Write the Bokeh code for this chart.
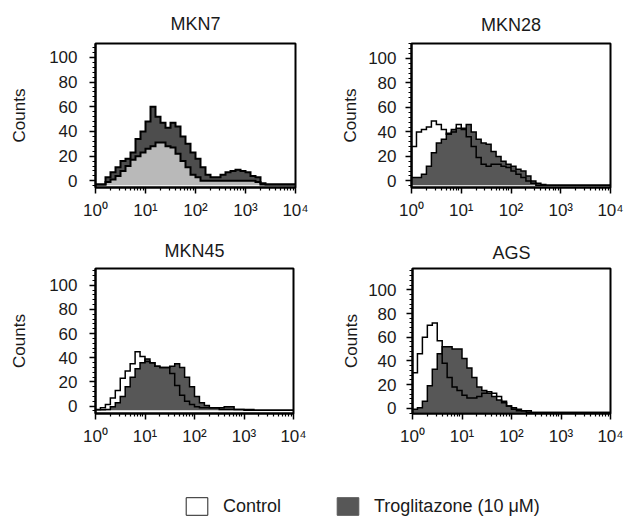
from bokeh.plotting import figure
from bokeh.layouts import column, row
from bokeh.models import Range1d, FixedTicker, SingleIntervalTicker, Legend, LegendItem
from bokeh.embed import file_html
from bokeh.resources import INLINE

# ---- data -------------------------------------------------------------
# histogram bin edges, in decades of fluorescence intensity (10^0 .. 10^4)
LOG_EDGES = [0.0, 0.1, 0.2, 0.3, 0.4, 0.5, 0.6, 0.7, 0.8, 0.9,
             1.0, 1.1, 1.2, 1.3, 1.4, 1.5, 1.6, 1.7, 1.8, 1.9,
             2.0, 2.1, 2.2, 2.3, 2.4, 2.5, 2.6, 2.7, 2.8, 2.9,
             3.0, 3.1, 3.2, 3.3, 3.4, 3.5, 3.6, 3.7, 3.8, 3.9, 4.0]

X_TICKS = [1, 10, 100, 1000, 10000]
X_TICK_LABELS = ["10⁰", "10¹", "10²", "10³", "10⁴"]

PANEL_TITLES = ["MKN7", "MKN28", "MKN45", "AGS"]
SERIES_NAMES = ["Control", "Troglitazone (10 μM)"]

MKN7_CONTROL = [-3, -3, 3, 7, 11, 16, 18, 23, 34, 40,
                48, 60, 52, 47, 43, 47, 44, 36, 30, 23,
                18, 11, 5, 3, 3, 5, 7, 8, 9, 8,
                7, 4, 3, -2, -3, -3, -3, -3, -3, -3]
MKN7_TROG = [-3, -3, -1, 1, 4, 8, 12, 17, 20, 23,
             26, 28, 31, 31, 28, 27, 22, 16, 11, 5,
             3, 0, 0, 0, 0, 0, 0, 0, 0, 0,
             0, 0, -1, -3, -3, -3, -3, -3, -3, -3]

MKN28_CONTROL = [28, 40, 42, 44, 49, 46, 42, 38, 40, 46,
                 42, 36, 28, 19, 13.5, 12, 13.5, 13.5, 12, 11,
                 8, 5.4, 2.8, 0, -2, -3.5, -3.5, -3.5, -3.5, -3.5,
                 -3.5, -3.5, -3.5, -3.5, -3.5, -3.5, -3.5, -3.5, -3.5, -3.5]
MKN28_TROG = [2.7, 2.7, 5.4, 12, 23, 31, 34, 39, 42, 43,
              43, 46, 40, 34, 31, 30, 24, 20, 16, 13.5,
              12, 9.5, 8, 4, 0, -2, -3, -3.5, -3.5, -3.5,
              -3.5, -3.5, -3.5, -3.5, -3.5, -3.5, -3.5, -3.5, -3.5, -3.5]

MKN45_CONTROL = [-2.7, -1.3, 1.3, 6.7, 13, 23, 29, 35, 45, 41,
                 37, 36, 33, 32, 32, 27, 17, 9, 4, 1.3,
                 -0.5, -1.3, -1.3, -1.3, -1.3, -2.7, -2.7, -2.7, -2.7, -2.7,
                 -3.5, -3.5, -3.5, -3.5, -3.5, -3.5, -3.5, -3.5, -3.5, -3.5]
MKN45_TROG = [-3, -3, -2.7, -0.5, 2.7, 8, 16, 24, 31, 36,
              39, 36, 33, 32, 32, 33, 35, 32, 24, 16,
              8, 2.7, 0.5, -1.3, -1.3, -1.3, -0.5, -0.5, -2.7, -2.7,
              -2.7, -2.7, -3.5, -3.5, -3.5, -3.5, -3.5, -3.5, -3.5, -3.5]

AGS_CONTROL = [30, 46, 60, 70, 72, 57, 38, 26, 18, 15,
               11, 8.6, 8.6, 10, 12.6, 14, 12.6, 10, 6, 2,
               -0.8, -2, -2, -3.5, -3.5, -3.5, -3.5, -3.5, -3.5, -3.5,
               -3.5, -3.5, -3.5, -3.5, -3.5, -3.5, -3.5, -3.5, -3.5, -3.5]
AGS_TROG = [-0.8, 0.5, 6, 19, 33, 46, 52, 52, 50, 50,
            42, 34, 26, 18, 15, 12.6, 10, 7, 4.6, 2,
            0.5, -0.8, -2, -2, -3.5, -3.5, -3.5, -3.5, -3.5, -3.5,
            -3.5, -3.5, -3.5, -3.5, -3.5, -3.5, -3.5, -3.5, -3.5, -3.5]

# ---- styling ----------------------------------------------------------
FONT = "Liberation Sans"
TEXT = "#1a1a1a"
DARK = "#575757"
LIGHT = "#b9b9b9"
BASE = -3.5
NAN = float("nan")


def step_xy(vals):
    xs, ys = [], []
    for i, v in enumerate(vals):
        xs += [10 ** LOG_EDGES[i], 10 ** LOG_EDGES[i + 1]]
        ys += [v, v]
    return xs, ys


def panel(title, ctrl, trog, fill, yr, width, height, borders, title_standoff,
          tick_standoff, label_standoff, band=False, lw=1.5):
    bl, br, bt, bb = borders
    p = figure(width=width, height=height, x_axis_type="log",
               x_range=Range1d(1, 10000), y_range=Range1d(*yr),
               output_backend="svg", toolbar_location=None,
               min_border_left=bl, min_border_right=br,
               min_border_top=bt, min_border_bottom=bb)
    p.grid.visible = False
    p.outline_line_color = "black"
    p.outline_line_width = 2
    p.background_fill_color = "white"
    p.border_fill_color = "white"

    p.title.text = title
    p.title.align = "center"
    p.title.text_font = FONT
    p.title.text_font_size = "18px"
    p.title.text_font_style = "normal"
    p.title.text_color = TEXT
    p.title.standoff = title_standoff

    xa = p.xaxis[0]
    xa.ticker = FixedTicker(ticks=X_TICKS,
                            minor_ticks=[m * 10 ** d for d in range(4) for m in range(2, 10)])
    xa.major_label_overrides = {t: lab for t, lab in zip(X_TICKS, X_TICK_LABELS)}
    ya = p.yaxis[0]
    ya.ticker = SingleIntervalTicker(interval=20, num_minor_ticks=5)
    ya.axis_label = "Counts"
    ya.axis_label_standoff = label_standoff
    ya.axis_label_text_font = FONT
    ya.axis_label_text_font_size = "17px"
    ya.axis_label_text_font_style = "normal"
    ya.axis_label_text_color = TEXT
    for ax in (xa, ya):
        ax.axis_line_width = 2
        ax.axis_line_color = "black"
        ax.major_tick_in = 0
        ax.major_tick_out = 6
        ax.minor_tick_in = 0
        ax.minor_tick_out = 3
        ax.major_tick_line_width = 1.5
        ax.minor_tick_line_width = 1.2
        ax.major_label_text_font = FONT
        ax.major_label_text_color = TEXT
    xa.major_label_text_font_size = "17px"
    xa.major_label_standoff = 7
    ya.major_label_text_font_size = "17px"
    ya.major_label_standoff = tick_standoff

    cx, cy = step_xy(ctrl)
    tx, ty = step_xy(trog)
    px = [tx[0]] + tx + [tx[-1]]
    py = [BASE] + ty + [BASE]
    p.patch(px, py, fill_color=fill, line_color=None)
    if band:
        p.varea(x=cx, y1=ty, y2=cy, fill_color="#202020", fill_alpha=0.8)
    p.line(px, py, line_color="black", line_width=lw, line_join="miter")
    p.line([cx[0]] + cx + [cx[-1]], [BASE] + cy + [BASE],
           line_color="black", line_width=lw, line_join="miter")
    return p


# page coordinates: the page is drawn from (0, 0), 626 x 517
f1 = panel(PANEL_TITLES[0], MKN7_CONTROL, MKN7_TROG, LIGHT, (-5.4, 111.3),
           313, 230, (95, 18, 43, 42), 19, 12, 17, band=True, lw=2)
f2 = panel(PANEL_TITLES[1], MKN28_CONTROL, MKN28_TROG, DARK, (-5.4, 112.2),
           313, 230, (98, 16, 42, 43), 17, 9, 5)
f3 = panel(PANEL_TITLES[2], MKN45_CONTROL, MKN45_TROG, DARK, (-6.1, 113.9),
           313, 230, (95, 20, 34, 46), 16, 12, 17)
f4 = panel(PANEL_TITLES[3], AGS_CONTROL, AGS_TROG, DARK, (-4.4, 118.0),
           313, 230, (99, 16, 31, 47), 11, 10, 4)

lf = figure(width=626, height=57, x_range=Range1d(0, 1), y_range=Range1d(0, 1),
            x_axis_type=None, y_axis_type=None, toolbar_location=None,
            output_backend="svg", min_border=0, outline_line_color=None)
lf.grid.visible = False
r1 = lf.quad(left=[NAN], right=[NAN], bottom=[NAN], top=[NAN],
             fill_color="white", line_color="#222222", line_width=1)
r2 = lf.quad(left=[NAN], right=[NAN], bottom=[NAN], top=[NAN],
             fill_color=DARK, line_color=DARK, line_width=1)
legend = Legend(items=[LegendItem(label=SERIES_NAMES[0], renderers=[r1]),
                       LegendItem(label=SERIES_NAMES[1], renderers=[r2])],
                orientation="horizontal", location=(183, 0),
                glyph_width=27, glyph_height=22, label_height=22,
                label_text_font=FONT, label_text_font_size="18px",
                label_text_color=TEXT, spacing=53, label_standoff=13,
                border_line_color=None, background_fill_alpha=0,
                padding=0, margin=0)
lf.add_layout(legend, "center")

layout = column(row(f1, f2), row(f3, f4), lf)
open("out.html", "w").write(file_html(layout, INLINE))
